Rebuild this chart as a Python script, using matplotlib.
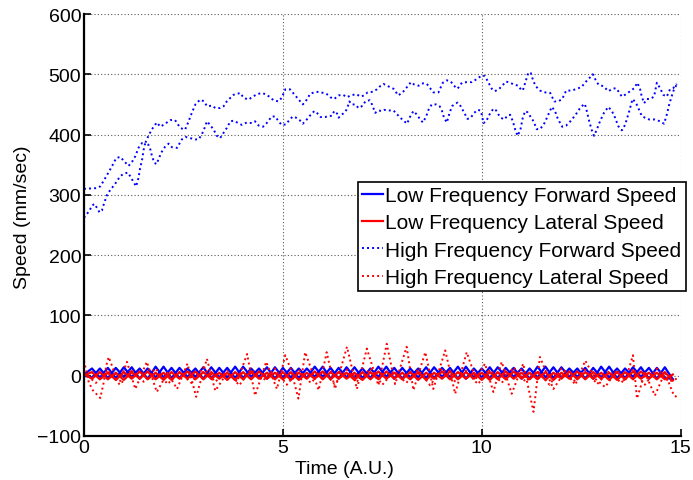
import numpy as np
import matplotlib
matplotlib.use("Agg")
import matplotlib.pyplot as plt

plt.rcParams["font.family"] = ["Liberation Sans", "DejaVu Sans"]
plt.rcParams["font.size"] = 14

# --- Data ------------------------------------------------------------------

# high frequency forward speed, upper trace
hf_fwd_a_t = [0.0, 0.28, 0.41, 0.51, 0.58, 0.70, 0.81, 0.91, 1.02, 1.12, 1.21, 1.29, 1.37, 1.46, 1.54,
              1.62, 1.71, 1.83, 1.92, 2.04, 2.17, 2.29, 2.42, 2.54, 2.63, 2.71, 2.80, 2.92, 3.02, 3.09,
              3.22, 3.30, 3.42, 3.51, 3.59, 3.68, 3.76, 3.93, 4.01, 4.14, 4.22, 4.35, 4.47, 4.56, 4.68,
              4.76, 4.89, 4.97, 5.06, 5.18, 5.27, 5.35, 5.44, 5.50, 5.59, 5.69, 5.84, 5.95, 6.09, 6.19,
              6.29, 6.40, 6.51, 6.61, 6.71, 6.84, 6.96, 7.04, 7.13, 7.26, 7.36, 7.44, 7.53, 7.65, 7.78,
              7.90, 8.01, 8.12, 8.22, 8.30, 8.41, 8.52, 8.62, 8.70, 8.78, 8.91, 9.02, 9.12, 9.22, 9.30,
              9.39, 9.50, 9.62, 9.75, 9.87, 10.00, 10.08, 10.17, 10.25, 10.33, 10.44, 10.54, 10.61, 10.71,
              10.81, 10.92, 10.98, 11.03, 11.09, 11.17, 11.23, 11.30, 11.36, 11.46, 11.59, 11.72, 11.82,
              11.92, 12.02, 12.12, 12.26, 12.39, 12.51, 12.59, 12.68, 12.79, 12.85, 12.93, 13.06, 13.18,
              13.29, 13.37, 13.43, 13.52, 13.60, 13.73, 13.83, 13.91, 13.98, 14.02, 14.08, 14.15, 14.23,
              14.33, 14.40, 14.48, 14.56, 14.65, 14.73, 14.81, 14.90]
hf_fwd_a_v = [310, 311, 314, 325, 333, 347, 361, 363, 355, 348, 355, 364, 378, 386, 386,
              398, 409, 420, 413, 418, 424, 424, 411, 408, 422, 436, 450, 458, 455, 447,
              448, 444, 444, 447, 455, 461, 466, 469, 461, 458, 462, 467, 469, 467, 462,
              457, 455, 461, 475, 475, 468, 462, 455, 450, 457, 468, 471, 470, 468, 462,
              459, 465, 466, 462, 465, 467, 463, 465, 470, 471, 475, 480, 484, 480, 476,
              465, 470, 479, 487, 483, 481, 485, 484, 477, 470, 470, 486, 490, 488, 481,
              476, 486, 487, 487, 492, 498, 497, 486, 476, 472, 476, 483, 488, 486,
              483, 481, 475, 473, 486, 503, 502, 488, 480, 473, 470, 469, 455,
              455, 459, 473, 473, 476, 479, 486, 492, 500, 492, 483, 480, 472,
              476, 477, 472, 463, 466, 472, 477, 486, 475, 463, 452, 459, 459,
              463, 486, 477, 466, 463, 475, 477, 484]

# high frequency forward speed, lower trace
hf_fwd_b_t = [0.0, 0.14, 0.20, 0.26, 0.33, 0.39, 0.45, 0.51, 0.58, 0.68, 0.76, 0.84, 0.91, 1.00, 1.10,
              1.16, 1.25, 1.31, 1.37, 1.41, 1.46, 1.50, 1.54, 1.62, 1.67, 1.71, 1.77, 1.83, 1.87, 1.96,
              2.04, 2.13, 2.21, 2.34, 2.46, 2.55, 2.67, 2.80, 2.88, 2.96, 3.02, 3.09, 3.17, 3.26, 3.34,
              3.42, 3.51, 3.59, 3.68, 3.76, 3.97, 4.09, 4.22, 4.30, 4.39, 4.50, 4.58, 4.66, 4.72, 4.81,
              4.89, 4.97, 5.08, 5.17, 5.25, 5.33, 5.42, 5.50, 5.60, 5.70, 5.79, 5.87, 5.95, 6.06, 6.15,
              6.23, 6.29, 6.36, 6.40, 6.48, 6.57, 6.62, 6.67, 6.73, 6.82, 6.90, 7.01, 7.07, 7.18, 7.24,
              7.29, 7.32, 7.40, 7.49, 7.55, 7.65, 7.78, 7.88, 7.95, 8.05, 8.12, 8.20, 8.28, 8.37, 8.45,
              8.52, 8.60, 8.66, 8.74, 8.85, 8.94, 9.00, 9.05, 9.12, 9.19, 9.25, 9.33, 9.39, 9.47, 9.56,
              9.64, 9.72, 9.81, 9.89, 9.96, 10.00, 10.04, 10.11, 10.19, 10.29, 10.36, 10.42, 10.48, 10.56,
              10.63, 10.71, 10.78, 10.84, 10.90, 10.97, 11.03, 11.09, 11.15, 11.22, 11.30, 11.38, 11.46,
              11.55, 11.61, 11.67, 11.76, 11.84, 11.90, 11.97, 12.02, 12.12, 12.20, 12.30, 12.39, 12.49,
              12.59, 12.65, 12.70, 12.76, 12.82, 12.89, 12.97, 13.07, 13.18, 13.27, 13.35, 13.43, 13.52,
              13.60, 13.68, 13.74, 13.79, 13.88, 13.94, 14.02, 14.10, 14.21, 14.35, 14.48, 14.58, 14.65,
              14.71, 14.77, 14.83, 14.90]
hf_fwd_b_v = [262, 274, 282, 285, 278, 271, 274, 287, 300, 310, 316, 324, 331, 335, 337,
              331, 321, 314, 328, 344, 358, 375, 386, 383, 375, 364, 353, 351, 359, 372,
              380, 385, 379, 378, 392, 396, 394, 392, 392, 400, 409, 422, 416, 408, 398,
              394, 403, 411, 422, 423, 416, 420, 419, 422, 415, 413, 418, 425, 430, 430,
              422, 416, 417, 425, 430, 428, 424, 418, 425, 433, 439, 435, 429, 429, 431,
              431, 439, 435, 428, 433, 438, 444, 455, 450, 450, 444, 448, 455, 457, 450,
              441, 436, 440, 439, 441, 440, 440, 433, 428, 422, 418, 430, 439, 433, 425,
              420, 430, 441, 450, 450, 447, 439, 428, 420, 436, 447, 451, 453, 447, 436,
              426, 428, 436, 441, 440, 433, 419, 422, 433, 443, 440, 433, 428, 425,
              430, 433, 422, 408, 398, 408, 428, 439, 437, 430, 422, 409, 409,
              416, 424, 433, 446, 439, 428, 419, 413, 415, 420, 428, 436, 446,
              451, 436, 422, 408, 398, 408, 422, 436, 446, 439, 428, 414, 407,
              416, 433, 447, 459, 452, 443, 431, 428, 425, 425, 422, 418, 433,
              450, 463, 475, 483]

# high frequency lateral speed, large trace (peaks and troughs)
hf_lat_a_t = [0.0, 0.12, 0.22, 0.41, 0.49, 0.56, 0.62, 0.70, 0.79, 0.90, 1.08, 1.29, 1.58, 1.83, 2.10,
              2.34, 2.60, 2.82, 3.09, 3.30, 3.60, 3.85, 4.10, 4.30, 4.58, 4.85, 5.06, 5.20, 5.39, 5.56,
              5.90, 6.10, 6.31, 6.61, 6.86, 7.11, 7.40, 7.61, 7.82, 8.11, 8.28, 8.58, 8.78, 9.08, 9.33,
              9.62, 9.85, 10.08, 10.29, 10.50, 10.75, 11.04, 11.30, 11.46, 11.80, 12.10, 12.35, 12.60,
              12.85, 13.10, 13.40, 13.60, 13.80, 13.90, 14.10, 14.35, 14.60, 14.83, 14.90]
hf_lat_a_v = [25, -11, -24, -37, -13, 17, 31, 17, 0, -10, 23, -22, 23, -27, 5,
              -22, 20, -35, 28, -25, 5, -10, 36, -33, 23, -22, 34, 10, -38, 39,
              -24, 39, -22, 48, -22, 45, -16, 53, -14, 48, -24, 39, -22, 42, -30,
              39, -5, 20, -27, 23, -30, 20, -60, 31, -22, 8, -15, 25,
              -5, -19, 10, -10, 34, -38, 5, -33, 5, -33, -35]

# high frequency lateral speed, small trace
hf_lat_b_t = [0.0, 0.3, 0.6, 0.9, 1.2, 1.5, 1.8, 2.1, 2.4, 2.7, 3.0, 3.3, 3.6, 3.9, 4.2,
              4.5, 4.8, 5.1, 5.4, 5.7, 6.0, 6.3, 6.6, 6.9, 7.2, 7.5, 7.8, 8.1, 8.4, 8.7,
              9.0, 9.3, 9.6, 9.9, 10.2, 10.5, 10.8, 11.1, 11.4, 11.7, 12.0, 12.3, 12.6, 12.9, 13.2,
              13.5, 13.8, 14.1, 14.4, 14.7, 14.9]
hf_lat_b_v = [5, -12, 10, -15, 8, -10, 12, -14, 6, -12, 14, -10, 8, -16, 10,
              -8, 12, -15, 10, -12, 8, -14, 10, -10, 12, -15, 8, -12, 10, -16,
              12, -10, 8, -14, 10, -12, 14, -10, 8, -15, 12, -10, 10, -14, 8,
              -12, 10, -15, 12, -10, -5]

# low frequency forward speed, two traces (step 0.2)
lf_fwd_a = [2, 12, -3, 13, -4, 14, -2, 12, -5, 15, -3, 13, -4, 12, -2, 14, -5, 13, -3, 15,
            -4, 12, -2, 14, -5, 13, -3, 12, -4, 15, -2, 13, -5, 14, -3, 12, -4, 15, -2, 13,
            -5, 12, -3, 14, -4, 13, -2, 15, -5, 12, -3, 14, -4, 13, -2, 12, -5, 15, -3, 14,
            -4, 12, -2, 13, -5, 15, -3, 12, -4, 14, -2, 13, -5, 14, -6]
lf_fwd_b = [0, -3, 12, -4, 13, -2, 14, -5, 12, -3, 15, -4, 13, -2, 12, -5, 14, -3, 13, -4,
            15, -2, 12, -5, 14, -3, 13, -4, 12, -2, 15, -5, 13, -3, 14, -4, 12, -2, 15, -5,
            13, -3, 12, -4, 14, -2, 13, -5, 15, -3, 12, -4, 14, -2, 13, -5, 12, -3, 15, -4,
            14, -2, 12, -5, 13, -3, 15, -4, 12, -2, 14, -5, 13, -3, -6]

# low frequency lateral speed, two traces (step 0.2)
lf_lat_a = [0, 6, -6, 5, -7, 6, -5, 7, -6, 5, -7, 6, -5, 7, -6, 6, -5, 5, -7, 6,
            -6, 7, -5, 5, -6, 6, -7, 5, -5, 7, -6, 6, -5, 5, -7, 6, -6, 7, -5, 5,
            -6, 6, -7, 5, -5, 7, -6, 6, -5, 5, -7, 6, -6, 7, -5, 5, -6, 6, -7, 5,
            -5, 7, -6, 6, -5, 5, -7, 6, -6, 7, -5, 5, -6, 6, -8]
lf_lat_b = [3, -5, 6, -6, 5, -7, 6, -5, 7, -6, 5, -7, 6, -5, 7, -6, 6, -5, 5, -7,
            6, -6, 7, -5, 5, -6, 6, -7, 5, -5, 7, -6, 6, -5, 5, -7, 6, -6, 7, -5,
            5, -6, 6, -7, 5, -5, 7, -6, 6, -5, 5, -7, 6, -6, 7, -5, 5, -6, 6, -7,
            5, -5, 7, -6, 6, -5, 5, -7, 6, -6, 7, -5, 5, -6, 2]

x_ticks = [0, 5, 10, 15]
y_ticks = [-100, 0, 100, 200, 300, 400, 500, 600]

BLUE = (0, 0, 1)
RED = (1, 0, 0)
DOT = (0, (1, 1.6))

# --- Plot ------------------------------------------------------------------

fig = plt.figure(figsize=(6.93, 4.81), dpi=100)
ax = fig.add_axes([0.1212, 0.0915, 0.8611, 0.8773])

t_lf = np.arange(len(lf_fwd_a)) * 0.2
ax.plot(t_lf, lf_fwd_a, color=BLUE, lw=1.6, label="Low Frequency Forward Speed")
ax.plot(t_lf, lf_fwd_b, color=BLUE, lw=1.6)
ax.plot(t_lf, lf_lat_a, color=RED, lw=1.6, label="Low Frequency Lateral Speed")
ax.plot(t_lf, lf_lat_b, color=RED, lw=1.6)

ax.plot(hf_fwd_a_t, hf_fwd_a_v, color=BLUE, lw=1.4, ls=DOT, label="High Frequency Forward Speed")
ax.plot(hf_fwd_b_t, hf_fwd_b_v, color=BLUE, lw=1.4, ls=DOT)
ax.plot(hf_lat_a_t, hf_lat_a_v, color=RED, lw=1.4, ls=DOT, label="High Frequency Lateral Speed")
ax.plot(hf_lat_b_t, hf_lat_b_v, color=RED, lw=1.4, ls=DOT)

ax.set_xlim(0, 15)
ax.set_ylim(-100, 600)
ax.set_xticks(x_ticks)
ax.set_yticks(y_ticks)
ax.set_xlabel("Time (A.U.)")
ax.set_ylabel("Speed (mm/sec)")
ax.xaxis.set_label_coords(0.437, -0.058)
ax.yaxis.set_label_coords(-0.088, 0.52)

ax.grid(True, color="0.35", linestyle=(0, (1, 2)), linewidth=0.8)
ax.set_axisbelow(True)
for side in ("top", "right"):
    ax.spines[side].set_visible(False)
for side in ("left", "bottom"):
    ax.spines[side].set_linewidth(1.6)
ax.tick_params(direction="in", length=5, width=1.2, pad=2)

leg = ax.legend(loc="lower right", bbox_to_anchor=(1.008, 0.343), frameon=True, fancybox=False,
                edgecolor="k", framealpha=1, handlelength=1.0, handletextpad=0.12,
                labelspacing=0.4, borderpad=0.2, borderaxespad=0, fontsize=15)
leg.get_frame().set_linewidth(1.2)

fig.savefig("out.png", dpi=100)
